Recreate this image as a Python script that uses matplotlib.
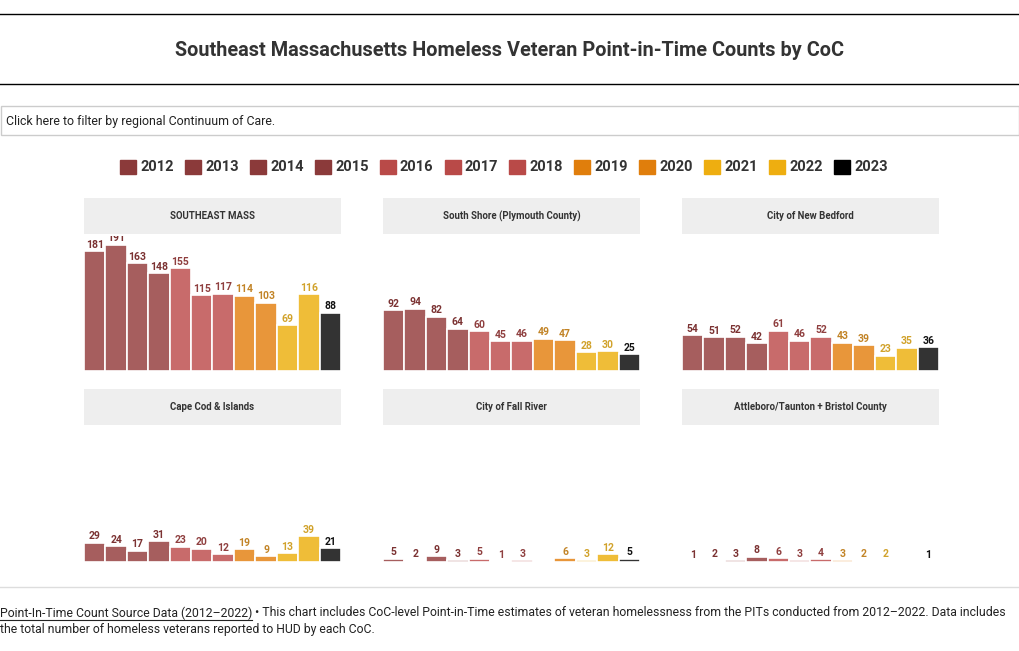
import numpy as np
import matplotlib
matplotlib.use("Agg")
import matplotlib.pyplot as plt
from matplotlib import font_manager
from matplotlib.patches import Rectangle, Patch

# ---- data ----
years = ['2012', '2013', '2014', '2015', '2016', '2017', '2018',
         '2019', '2020', '2021', '2022', '2023']
regions = ['SOUTHEAST MASS', 'South Shore (Plymouth County)', 'City of New Bedford',
           'Cape Cod & Islands', 'City of Fall River', 'Attleboro/Taunton + Bristol County']
southeast_mass = [181, 191, 163, 148, 155, 115, 117, 114, 103, 69, 116, 88]
south_shore = [92, 94, 82, 64, 60, 45, 46, 49, 47, 28, 30, 25]
new_bedford = [54, 51, 52, 42, 61, 46, 52, 43, 39, 23, 35, 36]
cape_cod = [29, 24, 17, 31, 23, 20, 12, 19, 9, 13, 39, 21]
fall_river = [5, 2, 9, 3, 5, 1, 3, None, 6, 3, 12, 5]
attleboro = [1, 2, 3, 8, 6, 3, 4, 3, 2, 2, None, 1]
series = [southeast_mass, south_shore, new_bedford, cape_cod, fall_river, attleboro]

legend_colors = ['#8b3a3a'] * 4 + ['#b94a48'] * 3 + ['#e07e0c'] * 2 + ['#eeae10'] * 2 + ['#000000']
bar_colors = ['#a65e5e'] * 4 + ['#c86b6b'] * 3 + ['#e8963a'] * 2 + ['#efbd38'] * 2 + ['#333333']
label_colors = ['#7b3232'] * 4 + ['#8f3f3f'] * 3 + ['#c28427'] * 2 + ['#d1a22b'] * 2 + ['#111111']

names = {f.name for f in font_manager.fontManager.ttflist}
FONT = 'Liberation Sans Narrow' if 'Liberation Sans Narrow' in names else 'Roboto'
plt.rcParams['font.family'] = [FONT, 'DejaVu Sans']

W, H = 1020, 651
fig = plt.figure(figsize=(W / 100, H / 100), dpi=100)


def px(x, y):
    return x / W, 1 - y / H


def box(x0, y0, x1, y1):
    return [x0 / W, 1 - y1 / H, (x1 - x0) / W, (y1 - y0) / H]


# header lines and title
for yy in (14, 84):
    fig.add_artist(plt.Line2D([0, 1], [1 - yy / H] * 2, color='black', lw=1))
fig.text(0.5, 1 - 50 / H, 'Southeast Massachusetts Homeless Veteran Point-in-Time Counts by CoC',
         ha='center', va='center', fontsize=14.3, fontweight='bold', color='#333333')

# filter box
fig.add_artist(Rectangle(px(1, 135), 1018 / W, 29 / H, transform=fig.transFigure,
                         facecolor='white', edgecolor='#cccccc', lw=1))
fig.text(6 / W, 1 - 121 / H, 'Click here to filter by regional Continuum of Care.',
         ha='left', va='center', fontsize=8.9, color='#222222')

# legend
handles = [Patch(facecolor=c, edgecolor=c, label=y) for c, y in zip(legend_colors, years)]
fig.legend(handles=handles, loc='center', bbox_to_anchor=(0.494, 1 - 167 / H), ncol=12,
           frameon=False, handlelength=1.1, handleheight=1.1, handletextpad=0.3,
           columnspacing=0.75, prop={'family': FONT, 'weight': 'bold', 'size': 10.5},
           labelcolor='#333333')

# panels
col_x = [84, 383, 682]
row_y = [(198, 234, 236, 371), (389, 425, 427, 562)]
ymax = 204
for i, (name, vals) in enumerate(zip(regions, series)):
    r, c = divmod(i, 3)
    hy0, hy1, cy0, cy1 = row_y[r]
    x0 = col_x[c]
    x1 = x0 + 257
    hax = fig.add_axes(box(x0, hy0, x1, hy1))
    hax.set_facecolor('#eeeeee')
    hax.set_xticks([])
    hax.set_yticks([])
    for s in hax.spines.values():
        s.set_visible(False)
    hax.text(0.5, 0.5, name, ha='center', va='center', fontsize=6.9,
             fontweight='bold', color='#333333', transform=hax.transAxes)

    ax = fig.add_axes(box(x0, cy0, x1, cy1))
    v = np.array([np.nan if a is None else a for a in vals], dtype=float)
    xs = np.arange(len(years))
    ax.bar(xs, np.nan_to_num(v), width=1.0, color=bar_colors, edgecolor='white', linewidth=1.2)
    for xi, val, lc in zip(xs, v, label_colors):
        if np.isnan(val):
            continue
        ax.annotate(f'{int(val)}', (xi, val), xytext=(0, 1), textcoords='offset points',
                    ha='center', va='bottom', fontsize=7.5, fontweight='bold', color=lc,
                    annotation_clip=False, clip_on=True)
    ax.set_xlim(-0.5, len(years) - 0.5)
    ax.set_ylim(0, ymax)
    ax.axis('off')

# footer
fig.add_artist(plt.Line2D([0, 1], [1 - 587 / H] * 2, color='#dddddd', lw=1))
t1 = fig.text(0, 1 - 613 / H, 'Point-In-Time Count Source Data (2012\u20132022)',
              ha='left', va='center', fontsize=8.8, color='#222222')
fig.canvas.draw()
bb = t1.get_window_extent(fig.canvas.get_renderer())
fig.add_artist(plt.Line2D([bb.x0 / W, bb.x1 / W], [(bb.y0 - 0.5) / H] * 2, color='#222222', lw=0.8))
fig.text(bb.x1 / W, 1 - 613 / H,
         ' \u2022 This chart includes CoC-level Point-in-Time estimates of veteran homelessness '
         'from the PITs conducted from 2012\u20132022. Data includes',
         ha='left', va='center', fontsize=8.8, color='#222222')
fig.text(0, 1 - 629 / H, 'the total number of homeless veterans reported to HUD by each CoC.',
         ha='left', va='center', fontsize=8.8, color='#222222')

fig.savefig('out.png', dpi=100)
